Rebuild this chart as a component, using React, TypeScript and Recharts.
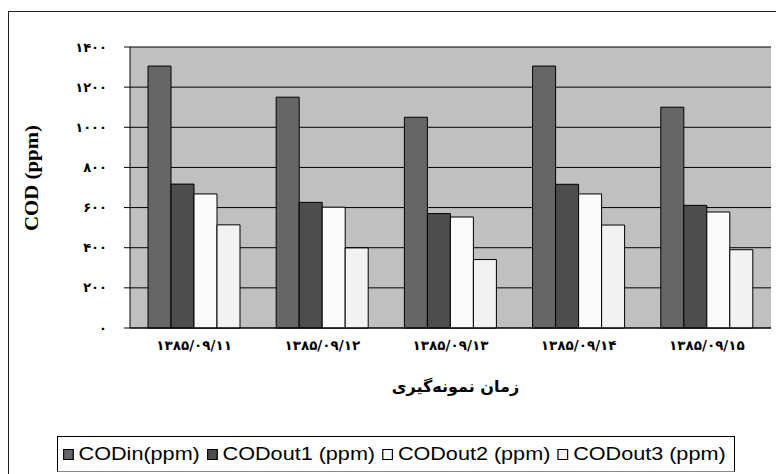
import { BarChart, Bar, XAxis, YAxis, CartesianGrid } from 'recharts'

const dates = ['۱۳۸۵/۰۹/۱۱', '۱۳۸۵/۰۹/۱۲', '۱۳۸۵/۰۹/۱۳', '۱۳۸۵/۰۹/۱۴', '۱۳۸۵/۰۹/۱۵']
const codIn = [1305, 1150, 1050, 1305, 1100]
const codOut1 = [717, 626, 570, 716, 611]
const codOut2 = [668, 602, 553, 668, 578]
const codOut3 = [514, 399, 341, 513, 390]

const yTicks = [0, 200, 400, 600, 800, 1000, 1200, 1400]
const yTickLabels = ['۰', '۲۰۰', '۴۰۰', '۶۰۰', '۸۰۰', '۱۰۰۰', '۱۲۰۰', '۱۴۰۰']
const boundaryTicks = [0, 1, 2, 3, 4, 5]

const seriesKeys = ['codIn', 'codOut1', 'codOut2', 'codOut3']
const seriesNames = ['CODin(ppm)', 'CODout1 (ppm)', 'CODout2 (ppm)', 'CODout3 (ppm)']
const seriesColors = ['#666666', '#4d4d4d', '#fafafa', '#f2f2f2']

const xTitle = 'زمان نمونه‌گیری'
const yTitle = 'COD (ppm)'

const data = dates.map((date, i) => ({
  date,
  codIn: codIn[i],
  codOut1: codOut1[i],
  codOut2: codOut2[i],
  codOut3: codOut3[i],
}))

const persianFont = '"DejaVu Sans", sans-serif'

function Legend() {
  return (
    <div
      style={{
        position: 'absolute',
        left: 57,
        top: 436,
        width: 678,
        height: 36,
        boxSizing: 'border-box',
        border: '1px solid #000',
        borderBottomColor: '#888',
        background: '#fff',
        overflow: 'hidden',
      }}
    >
      <div
        style={{
          position: 'absolute',
          left: 5,
          top: 0,
          height: 34,
          display: 'flex',
          alignItems: 'center',
          whiteSpace: 'nowrap',
          fontFamily: '"Liberation Sans", Arial, sans-serif',
          fontSize: 18,
          color: '#000',
          transform: 'scaleX(1.2)',
          transformOrigin: 'left center',
        }}
      >
        {seriesNames.map((name, i) => (
          <span key={name} style={{ display: 'flex', alignItems: 'center', marginRight: 6 }}>
            <span
              style={{
                display: 'inline-block',
                width: 7,
                height: 9,
                background: seriesColors[i],
                border: '1px solid #000',
                marginRight: 4,
              }}
            />
            {name}
          </span>
        ))}
      </div>
    </div>
  )
}

export default function App() {
  return (
    <div
      style={{
        position: 'absolute',
        left: 0,
        top: 0,
        width: 776,
        height: 474,
        overflow: 'hidden',
        background: '#fff',
      }}
    >
      <div
        style={{
          position: 'absolute',
          left: 8,
          top: 11,
          width: 900,
          height: 600,
          border: '1.5px solid #222',
        }}
      />
      <div style={{ position: 'absolute', left: 0, top: 0 }}>
        <BarChart
          width={776}
          height={474}
          data={data}
          margin={{ top: 47, right: 5, bottom: 76, left: 0 }}
          barCategoryGap={18}
          barGap={0}
        >
          <CartesianGrid vertical={false} stroke="#000" fill="#c0c0c0" fillOpacity={1} />
          <XAxis
            xAxisId="edges"
            type="number"
            domain={[0, 5]}
            ticks={boundaryTicks}
            height={0}
            axisLine={false}
            tick={false}
            tickSize={6}
            tickLine={{ stroke: '#000' }}
          />
          <XAxis
            dataKey="date"
            height={70}
            tickLine={false}
            tickSize={6}
            tickMargin={6}
            axisLine={{ stroke: '#000' }}
            interval={0}
            tick={{ fill: '#000', fontSize: 13.5, fontWeight: 'bold', fontFamily: persianFont }}
            label={({ viewBox }: any) => (
              <text
                x={viewBox.x + viewBox.width / 2 + 5}
                y={viewBox.y + 58}
                textAnchor="middle"
                dominantBaseline="central"
                fontFamily={persianFont}
                fontWeight="bold"
                fontSize={16}
                fill="#000"
              >
                {xTitle}
              </text>
            )}
          />
          <YAxis
            width={130}
            domain={[0, 1400]}
            ticks={yTicks}
            interval={0}
            tickSize={6}
            tickMargin={17}
            axisLine={{ stroke: '#000' }}
            tickLine={{ stroke: '#000' }}
            tickFormatter={(v: number) => yTickLabels[yTicks.indexOf(v)]}
            tick={{ fill: '#000', fontSize: 13, fontWeight: 'bold', fontFamily: persianFont }}
            label={() => (
              <text
                x={38}
                y={178}
                transform="rotate(-90, 38, 178)"
                textAnchor="middle"
                fontFamily='"Liberation Serif", "Times New Roman", serif'
                fontWeight="bold"
                fontSize={18}
                textLength={106}
                lengthAdjust="spacingAndGlyphs"
                fill="#000"
              >
                {yTitle}
              </text>
            )}
          />
          <YAxis
            yAxisId="frame"
            orientation="right"
            width={0}
            tick={false}
            tickLine={false}
            axisLine={{ stroke: '#808080' }}
          />
          {seriesKeys.map((key, i) => (
            <Bar
              key={key}
              dataKey={key}
              name={seriesNames[i]}
              fill={seriesColors[i]}
              stroke="#000"
              strokeWidth={1}
              isAnimationActive={false}
            />
          ))}
        </BarChart>
      </div>
      <Legend />
    </div>
  )
}
